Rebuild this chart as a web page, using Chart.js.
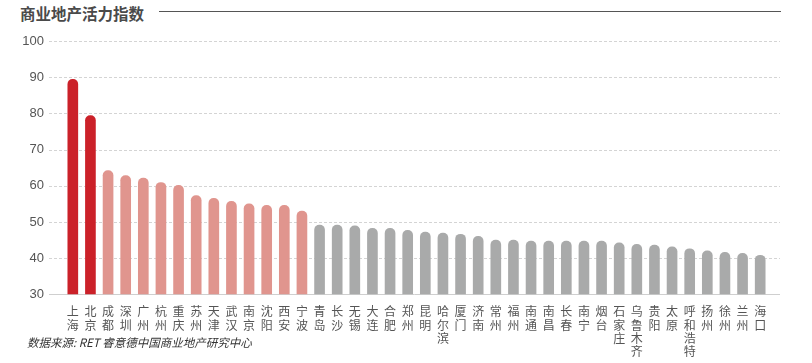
<!DOCTYPE html>
<html>
<head>
<meta charset="utf-8">
<script src="https://cdn.jsdelivr.net/npm/chart.js@4"></script>
<style>
  html, body { margin: 0; padding: 0; background: #fff; }
  body { width: 812px; height: 363px; position: relative; overflow: hidden; font-family: "Noto Sans CJK SC", "Noto Sans", sans-serif; }
  #title { position: absolute; left: 20px; top: 2px; font-size: 15.5px; font-weight: bold; color: #4a4a4a; }
  #rule { position: absolute; left: 159px; top: 11px; width: 622px; height: 0; border-top: 1.5px solid #555; }
  #source { position: absolute; left: 27px; top: 334px; font-size: 11.5px; font-style: italic; color: #333; }
  canvas { position: absolute; left: 0; top: 0; }
</style>
</head>
<body>
<div id="title">商业地产活力指数</div>
<div id="rule"></div>
<canvas id="chart" width="812" height="363"></canvas>
<div id="source">数据来源: RET 睿意德中国商业地产研究中心</div>
<script>
// cities, ordered as in the chart
const cities = [
    '上海', '北京', '成都', '深圳', '广州', '杭州', '重庆', '苏州', '天津', '武汉',
    '南京', '沈阳', '西安', '宁波', '青岛', '长沙', '无锡', '大连', '合肥', '郑州',
    '昆明', '哈尔滨', '厦门', '济南', '常州', '福州', '南通', '南昌', '长春', '南宁',
    '烟台', '石家庄', '乌鲁木齐', '贵阳', '太原', '呼和浩特', '扬州', '徐州', '兰州', '海口'
];

const scores = [
    89.4, 79.4, 64.2, 62.8, 62.1, 60.9, 60.1, 57.3, 56.5, 55.7,
    55.0, 54.6, 54.6, 53.0, 49.1, 49.1, 48.9, 48.2, 48.2, 47.7,
    47.2, 46.9, 46.6, 46.0, 45.0, 45.0, 44.7, 44.7, 44.7, 44.7,
    44.7, 44.2, 43.8, 43.6, 43.1, 42.6, 42.0, 41.6, 41.3, 40.8
];

// tier of each city: 0 = top two, 1 = next group, 2 = the rest
const tiers = [0, 0, 1, 1, 1, 1, 1, 1, 1, 1, 1, 1, 1, 1,
    2, 2, 2, 2, 2, 2, 2, 2, 2, 2, 2, 2, 2, 2, 2, 2, 2, 2, 2, 2, 2, 2, 2, 2, 2, 2];

const yTicks = [30, 40, 50, 60, 70, 80, 90, 100];

const tierColors = ['#cb2129', '#e0958e', '#a9aaaa'];

// dashed grid that runs a bit past the plot on both sides
const wideGrid = {
    id: 'wideGrid',
    beforeDatasetsDraw(chart) {
        const ctx = chart.ctx;
        const y = chart.scales.y;
        ctx.save();
        yTicks.forEach(v => {
            const py = Math.round(y.getPixelForValue(v)) + 0.5;
            ctx.beginPath();
            ctx.lineWidth = 1;
            if (v === 30) {
                ctx.setLineDash([]);
                ctx.strokeStyle = '#cfcfcf';
            } else {
                ctx.setLineDash([3, 2]);
                ctx.strokeStyle = '#d4d4d4';
            }
            ctx.moveTo(49, py);
            ctx.lineTo(780, py);
            ctx.stroke();
        });
        ctx.restore();
    }
};

new Chart(document.getElementById('chart'), {
    type: 'bar',
    data: {
        labels: cities.map(c => c.split('')),
        datasets: [{
            data: scores,
            backgroundColor: tiers.map(t => tierColors[t]),
            barThickness: 10,
            borderRadius: { topLeft: 5, topRight: 5, bottomLeft: 0, bottomRight: 0 },
            borderSkipped: false
        }]
    },
    options: {
        responsive: false,
        animation: false,
        layout: { padding: { top: 41, right: 43, left: 0, bottom: 0 } },
        plugins: { legend: { display: false }, tooltip: { enabled: false } },
        scales: {
            x: {
                offset: true,
                grid: { display: false },
                border: { display: false },
                ticks: {
                    autoSkip: false,
                    maxRotation: 0,
                    minRotation: 0,
                    padding: 3,
                    color: '#555',
                    font: { size: 12, family: '"Noto Sans CJK SC", sans-serif', lineHeight: 1.1 }
                },
                afterFit(scale) { scale.height = 68.7; }
            },
            y: {
                min: 30,
                max: 100,
                grid: { display: false, drawTicks: false },
                border: { display: false },
                ticks: {
                    stepSize: 10,
                    padding: 20,
                    color: '#555',
                    font: { size: 13, family: '"Liberation Sans", Arial, sans-serif' }
                },
                afterFit(scale) { scale.width = 64; }
            }
        }
    },
    plugins: [wideGrid]
});
</script>
</body>
</html>
